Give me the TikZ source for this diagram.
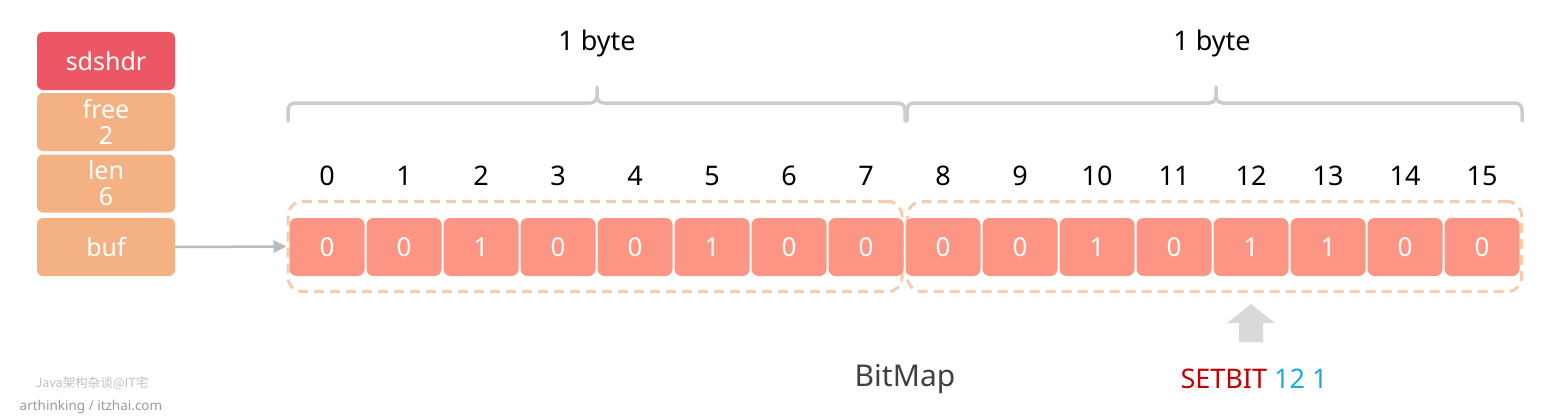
\documentclass[tikz,border=0pt]{standalone}
\usepackage{fontspec}
\setmainfont{Noto Sans}
\newfontfamily\cjkfont{Noto Sans CJK SC}
\usetikzlibrary{arrows.meta,positioning}
\definecolor{hdrred}{HTML}{EC5763}
\definecolor{fieldpeach}{HTML}{F4B183}
\definecolor{cellsalmon}{HTML}{FC9583}
\definecolor{grpdash}{HTML}{F8CBAD}
\definecolor{bracegray}{HTML}{CCCCCC}
\definecolor{linkgray}{HTML}{B5BDC1}
\definecolor{setred}{HTML}{C00000}
\definecolor{argblue}{HTML}{1AAAE8}
\tikzset{
  hdr/.style={fill=hdrred, rounded corners=6pt, minimum width=138pt, minimum height=58pt,
    inner sep=0pt, text=white, font=\fontsize{25}{27}\selectfont},
  field/.style={hdr, fill=fieldpeach, align=center, font=\fontsize{25}{26}\selectfont},
  cell/.style={fill=cellsalmon, rounded corners=7pt, minimum width=75pt, minimum height=58pt,
    inner sep=0pt, text=white, font=\fontsize{26}{28}\selectfont},
  group/.style={draw=grpdash, line width=3pt, dash pattern=on 10pt off 6pt, rounded corners=14pt,
    minimum width=614pt, minimum height=90pt, inner sep=0pt},
  index/.style={inner sep=0pt, font=\fontsize{27}{29}\selectfont},
  brace/.style={draw=bracegray, line width=3.5pt, line cap=round, line join=round},
  link/.style={draw=linkgray, line width=2.5pt, -{Triangle[length=13pt,width=12pt]}},
}

\begin{document}
\begin{tikzpicture}[x=1pt, y=-1pt]
  \useasboundingbox (0,0) rectangle (1558,420);

  % sdshdr struct
  \node[hdr] (sdshdr) at (106,61) {sdshdr};
  \node[field] (free) at (106,122) {free\\2};
  \node[field] (len) at (106,183.5) {len\\6};
  \node[field] (buf) at (106,247) {buf};

  % dashed byte groups
  \node[group] (grp1) at (595,246.5) {};
  \node[group] (grp2) at (1214.5,246.5) {};

  % bit cells and their indexes
  \foreach \v [count=\i from 0] in {0,0,1,0,0,1,0,0,0,0,1,0,1,1,0,0} {
    \node[cell] (c\i) at (327+77*\i,247) {\v};
    \node[index] (i\i) at (327+77*\i,176) {\i};
  }

  % buf points to the bitmap
  \draw[link] (buf.east) -- (grp1.west);

  % braces over each byte
  \foreach \l/\m/\r/\n in {288/597/905/1, 907/1216/1522/2} {
    \draw[brace] (\l,121) -- (\l,110) .. controls (\l,106) and (\l+3,103) .. (\l+7,103)
      -- (\m-7,103) .. controls (\m-3,103) and (\m,100) .. (\m,96) -- (\m,87)
      -- (\m,96) .. controls (\m,100) and (\m+3,103) .. (\m+7,103)
      -- (\r-7,103) .. controls (\r-3,103) and (\r,106) .. (\r,110) -- (\r,121);
  }
  \node[index] (byte1) at (597,43) {1 byte};
  \node[index] (byte2) at (1212,43) {1 byte};

  % SETBIT pointer
  \fill[gray!30] (1251,304) -- (1275,323) -- (1263,323) -- (1263,342)
    -- (1239,342) -- (1239,323) -- (1227,323) -- cycle;
  \node[inner sep=0pt, font=\fontsize{30}{32}\selectfont, text=black!75] (bitmap) at (905,379) {BitMap};
  \node[inner sep=0pt, font=\fontsize{27}{29}\selectfont] (setbit) at (1254,379)
    {\textcolor{setred}{SETBIT} \textcolor{argblue}{12 1}};

  % watermark
  \node[inner sep=0pt, text=black!25, font=\cjkfont\fontsize{12.5}{14}\selectfont] (wm1) at (92,383) {Java架构杂谈@IT宅};
  \node[inner sep=0pt, text=black!40, font=\fontsize{13.5}{15}\selectfont] (wm2) at (91,407) {arthinking / itzhai.com};

\end{tikzpicture}
\end{document}
